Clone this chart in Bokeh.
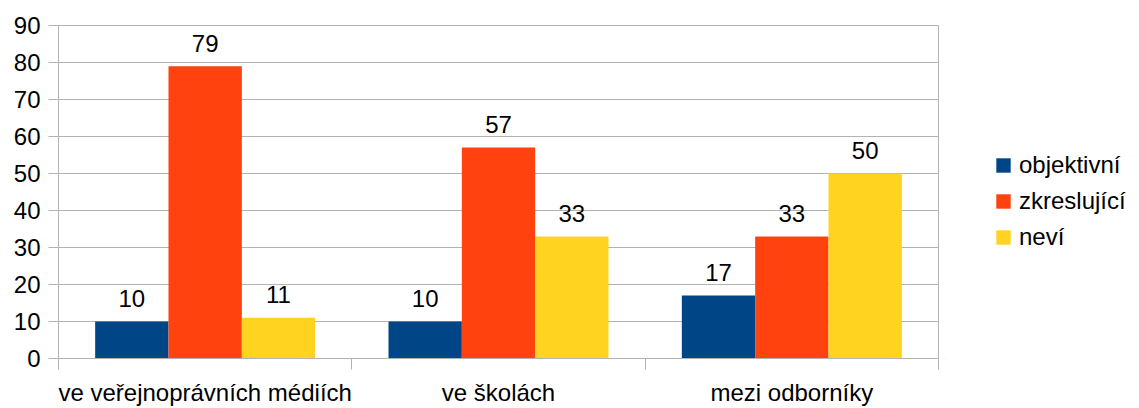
from bokeh.plotting import figure
from bokeh.layouts import row
from bokeh.models import (ColumnDataSource, Range1d, FixedTicker, Legend, LegendItem)
from bokeh.core.properties import value
from bokeh.embed import file_html
from bokeh.resources import INLINE

categories = ["ve veřejnoprávních médiích", "ve školách", "mezi odborníky"]
series_names = ["objektivní", "zkreslující", "neví"]
objektivni = [10, 10, 17]
zkreslujici = [79, 57, 33]
nevi = [11, 33, 50]
y_ticks = [0, 10, 20, 30, 40, 50, 60, 70, 80, 90]

colors = ["#004586", "#ff420e", "#ffd320"]
series = [objektivni, zkreslujici, nevi]
offsets = [-0.25, 0.0, 0.25]
FONT = "Liberation Sans"
FS = "24px"
GRID = "#b3b3b3"

p = figure(width=945, height=408, output_backend="svg", toolbar_location=None,
           x_range=Range1d(0, 3), y_range=Range1d(0, 90),
           min_border_left=58, min_border_top=25, min_border_right=7,
           min_border_bottom=49)
p.outline_line_color = GRID
p.outline_line_width = 1
p.background_fill_color = "white"
p.border_fill_color = "white"

p.xgrid.visible = False
p.ygrid.grid_line_color = GRID
p.ygrid.grid_line_width = 1

centers = [i + 0.5 for i in range(len(categories))]
for name, vals, off, col in zip(series_names, series, offsets, colors):
    src = ColumnDataSource(dict(x=[c + off for c in centers], top=vals,
                                label=[str(v) for v in vals]))
    p.vbar(x="x", top="top", bottom=0, width=0.25, source=src,
           fill_color=col, line_color=None)
    p.text(x="x", y="top", text="label", source=src, text_align="center",
           text_baseline="alphabetic", y_offset=-23, text_font=value(FONT),
           text_font_size=FS, text_color="black")

# y axis
ya = p.yaxis[0]
ya.ticker = FixedTicker(ticks=y_ticks)
ya.axis_line_color = GRID
ya.major_tick_line_color = GRID
ya.major_tick_out = 10
ya.major_tick_in = 0
ya.minor_tick_line_color = None
ya.major_label_standoff = 8
ya.major_label_text_font = FONT
ya.major_label_text_font_size = FS
ya.major_label_text_color = "black"

# x axis
xa = p.xaxis[0]
xa.ticker = FixedTicker(ticks=centers, minor_ticks=[0, 1, 2, 3])
xa.major_label_overrides = {c: lab for c, lab in zip(centers, categories)}
xa.axis_line_color = GRID
xa.major_tick_line_color = None
xa.major_tick_out = 0
xa.major_tick_in = 0
xa.minor_tick_line_color = GRID
xa.minor_tick_out = 11
xa.minor_tick_in = 0
xa.major_label_standoff = 9
xa.major_label_text_font = FONT
xa.major_label_text_font_size = FS
xa.major_label_text_color = "black"

# legend panel (separate figure to the right)
lg = figure(width=194, height=408, output_backend="svg", toolbar_location=None,
            x_axis_location=None, y_axis_location=None,
            x_range=Range1d(0, 1), y_range=Range1d(0, 1),
            min_border_left=0, min_border_right=0, min_border_top=0,
            min_border_bottom=0)
lg.outline_line_color = None
lg.xgrid.visible = False
lg.ygrid.visible = False
items = []
for name, col in zip(series_names, colors):
    r = lg.vbar(x=[-10], top=[-10], bottom=-20, width=0.1,
                fill_color=col, line_color=None)
    items.append(LegendItem(label=name, renderers=[r]))

legend = Legend(items=items, location=(49, 107), orientation="vertical",
                glyph_width=18, glyph_height=18, label_height=24, spacing=8,
                label_text_font=FONT, label_text_font_size=FS,
                label_text_color="black", label_standoff=7,
                padding=0, margin=0, border_line_color=None,
                background_fill_alpha=0)
lg.add_layout(legend)

layout = row(p, lg, spacing=0)
open("out.html", "w").write(file_html(layout, INLINE))
